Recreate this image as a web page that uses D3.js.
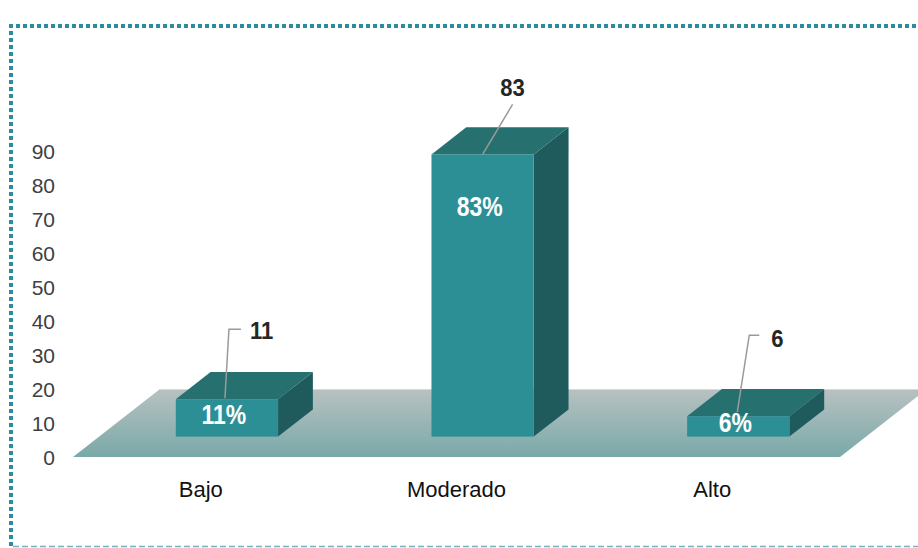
<!DOCTYPE html>
<html>
<head>
<meta charset="utf-8">
<script src="https://cdn.jsdelivr.net/npm/d3@7"></script>
<style>
  body { margin: 0; background: #fff; }
  svg { display: block; }
</style>
</head>
<body>
<div id="chart"></div>
<script>
const categories = ["Bajo", "Moderado", "Alto"];
const values = [11, 83, 6];
const percentLabels = ["11%", "83%", "6%"];
const yTicks = [0, 10, 20, 30, 40, 50, 60, 70, 80, 90];

const width = 918, height = 548;
const frontColor = "#2c8f95";
const topColor = "#26706f";
const sideColor = "#1f5b5d";
const leaderColor = "#9a9a9a";

// floor depth vector (front edge -> back edge)
const depth = [87, -68];
const barFront = 0.3, barBack = 0.7;

// callout leader offsets, relative to the front-top center of each bar
const callouts = [
    { pts: [[-2, -1], [2, -70], [14, -70]], text: [23, -60], anchor: "start" },
    { pts: [[0, 0], [30, -50]], text: [30, -58], anchor: "middle" },
    { pts: [[-1, -4], [11, -81], [21, -81]], text: [33, -69], anchor: "start" }
];

const svg = d3.select("#chart")
    .append("svg")
    .attr("width", width)
    .attr("height", height);

const x = d3.scaleBand()
    .domain(categories)
    .range([73, 840])
    .paddingInner(0.6)
    .paddingOuter(0.3);

const y = d3.scaleLinear()
    .domain([0, 90])
    .range([457, 151]);

const defs = svg.append("defs");
const grad = defs.append("linearGradient")
    .attr("id", "floor-grad")
    .attr("x1", 0).attr("y1", 0).attr("x2", 0).attr("y2", 1);
grad.append("stop").attr("offset", "0%").attr("stop-color", "#b9c1c1");
grad.append("stop").attr("offset", "100%").attr("stop-color", "#79a9a9");

// frame
svg.append("line")
    .attr("x1", 9).attr("y1", 26).attr("x2", width).attr("y2", 26)
    .attr("stroke", "#2e8aa0").attr("stroke-width", 4)
    .attr("stroke-dasharray", "4 3");
svg.append("line")
    .attr("x1", 11).attr("y1", 24).attr("x2", 11).attr("y2", height)
    .attr("stroke", "#2e8aa0").attr("stroke-width", 4)
    .attr("stroke-dasharray", "4 3");
svg.append("line")
    .attr("x1", 13).attr("y1", 546.5).attr("x2", width).attr("y2", 546.5)
    .attr("stroke", "#72b4c4").attr("stroke-width", 1.5)
    .attr("stroke-dasharray", "6 3");

// floor
const [x0, x1] = x.range();
const fy = y(0);
const floorPts = [[x0, fy], [x1, fy], [x1 + depth[0], fy + depth[1]], [x0 + depth[0], fy + depth[1]]];
svg.append("polygon")
    .attr("points", floorPts.map(p => p.join(",")).join(" "))
    .attr("fill", "url(#floor-grad)");
svg.append("line")
    .attr("x1", x0 + depth[0]).attr("y1", fy + depth[1] + 0.5)
    .attr("x2", x1 + depth[0]).attr("y2", fy + depth[1] + 0.5)
    .attr("stroke", "#d5dbdb").attr("stroke-width", 1);

// y axis labels
svg.append("g")
    .selectAll("text")
    .data(yTicks)
    .enter()
    .append("text")
    .attr("x", 55)
    .attr("y", d => y(d) + 7.5)
    .attr("text-anchor", "end")
    .style("font-family", "'Liberation Sans', Arial, sans-serif")
    .style("font-size", "21px")
    .attr("fill", "#404040")
    .text(d => d);

// category labels
svg.append("g")
    .selectAll("text")
    .data(categories)
    .enter()
    .append("text")
    .attr("x", d => x(d) + x.bandwidth() / 2)
    .attr("y", 497)
    .attr("text-anchor", "middle")
    .style("font-family", "'Liberation Sans', Arial, sans-serif")
    .style("font-size", "22px")
    .attr("fill", "#111")
    .text(d => d);

// bars
const fdx = depth[0] * barFront, fdy = depth[1] * barFront;
const bdx = depth[0] * (barBack - barFront), bdy = depth[1] * (barBack - barFront);
const bw = x.bandwidth();

const bars = categories.map((c, i) => {
    const left = x(c) + fdx;
    const top = y(values[i]) + fdy;
    const bottom = y(0) + fdy;
    return { c, i, left, top, bottom };
});

const barG = svg.append("g")
    .selectAll("g")
    .data(bars)
    .enter()
    .append("g");

barG.append("polygon")
    .attr("points", d => [[d.left + bw, d.top], [d.left + bw + bdx, d.top + bdy],
        [d.left + bw + bdx, d.bottom + bdy], [d.left + bw, d.bottom]].map(p => p.join(",")).join(" "))
    .attr("fill", sideColor);

barG.append("polygon")
    .attr("points", d => [[d.left, d.top], [d.left + bw, d.top],
        [d.left + bw + bdx, d.top + bdy], [d.left + bdx, d.top + bdy]].map(p => p.join(",")).join(" "))
    .attr("fill", topColor);

barG.append("rect")
    .attr("x", d => d.left)
    .attr("y", d => d.top)
    .attr("width", bw)
    .attr("height", d => d.bottom - d.top)
    .attr("fill", frontColor);

// condensed bold percent labels
barG.append("text")
    .attr("transform", d => "translate(" + (d.left + bw / 2 - 3) + "," +
        Math.min(d.top + 62, (d.top + d.bottom) / 2 + 6) + ") scale(0.82,1)")
    .attr("text-anchor", "middle")
    .style("font-family", "'Liberation Sans', Arial, sans-serif")
    .style("font-weight", "bold")
    .style("font-size", "28px")
    .attr("fill", "#fff")
    .text(d => percentLabels[d.i]);

// callouts
barG.append("polyline")
    .attr("points", d => {
        const cx = d.left + bw / 2;
        return callouts[d.i].pts.map(p => [cx + p[0], d.top + p[1]].join(",")).join(" ");
    })
    .attr("fill", "none")
    .attr("stroke", leaderColor)
    .attr("stroke-width", 1.5);

barG.append("text")
    .attr("transform", d => "translate(" + (d.left + bw / 2 + callouts[d.i].text[0]) + "," +
        (d.top + callouts[d.i].text[1]) + ") scale(0.92,1)")
    .attr("text-anchor", d => callouts[d.i].anchor)
    .style("font-family", "'Liberation Sans', Arial, sans-serif")
    .style("font-weight", "bold")
    .style("font-size", "24px")
    .attr("fill", "#262626")
    .text(d => values[d.i]);
</script>
</body>
</html>
